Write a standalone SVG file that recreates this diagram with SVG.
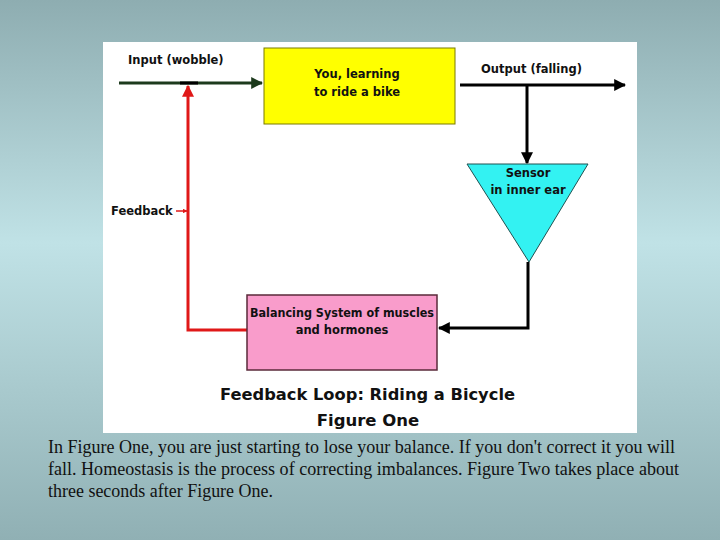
<svg xmlns="http://www.w3.org/2000/svg" width="720" height="540" viewBox="0 0 720 540">
<defs>
<linearGradient id="bg" x1="0" y1="0" x2="0" y2="1">
<stop offset="0" stop-color="#8eadb1"/>
<stop offset="0.45" stop-color="#c0e2e6"/>
<stop offset="1" stop-color="#90b0b4"/>
</linearGradient>
<marker id="ahG" viewBox="0 0 10 10" refX="9" refY="5" markerWidth="4" markerHeight="4" orient="auto" markerUnits="strokeWidth"><path d="M0,0 L10,5 L0,10 z" fill="#1c3a1c"/></marker>
<marker id="ahK" viewBox="0 0 10 10" refX="9" refY="5" markerWidth="4" markerHeight="4" orient="auto" markerUnits="strokeWidth"><path d="M0,0 L10,5 L0,10 z" fill="#000"/></marker>
<marker id="ahR" viewBox="0 0 10 10" refX="9" refY="5" markerWidth="4" markerHeight="4" orient="auto" markerUnits="strokeWidth"><path d="M0,0 L10,5 L0,10 z" fill="#e01818"/></marker>
<marker id="ahRs" viewBox="0 0 10 10" refX="9" refY="5" markerWidth="3" markerHeight="3" orient="auto" markerUnits="strokeWidth"><path d="M0,0 L10,5 L0,10 z" fill="#e01818"/></marker>
</defs>
<style>
.lbl{font-family:"DejaVu Sans",Verdana,sans-serif;font-weight:bold;font-size:11.5px;fill:#111}
.ttl{font-family:"DejaVu Sans",Verdana,sans-serif;font-weight:bold;font-size:16.5px;fill:#111}
.body{font-family:"Liberation Serif","Times New Roman",serif;font-size:18.5px;fill:#111}
.k{stroke:#000;stroke-width:3;fill:none}
.r{stroke:#e01818;stroke-width:3;fill:none}
</style>
<rect x="0" y="0" width="720" height="540" fill="url(#bg)"/>
<rect x="103" y="42" width="534" height="391" fill="#fff"/>

<g id="connectors">
<line x1="119" y1="83" x2="262" y2="83" stroke="#1c3a1c" stroke-width="3" marker-end="url(#ahG)"/>
<line x1="180" y1="83" x2="198" y2="83" stroke="#000" stroke-width="3"/>
<polyline class="r" points="247,330 188,330 188,86" marker-end="url(#ahR)"/>
<line x1="176" y1="211" x2="187" y2="211" stroke="#e01818" stroke-width="1.5" marker-end="url(#ahRs)"/>
<line class="k" x1="460" y1="85" x2="625" y2="85" marker-end="url(#ahK)"/>
<line class="k" x1="527" y1="85" x2="527" y2="163" marker-end="url(#ahK)"/>
<polyline class="k" points="528,262 528,328 439,328" marker-end="url(#ahK)"/>
</g>

<g id="input-label"><text class="lbl" x="128" y="64">Input (wobble)</text></g>
<g id="output-label"><text class="lbl" x="481" y="73">Output (falling)</text></g>
<g id="feedback-label"><text class="lbl" x="111" y="215">Feedback</text></g>

<g id="you">
<rect x="264" y="48" width="191" height="76" fill="#ffff00" stroke="#7a7a00" stroke-width="1"/>
<text class="lbl" x="357" y="78" text-anchor="middle">You, learning</text>
<text class="lbl" x="357" y="96" text-anchor="middle">to ride a bike</text>
</g>

<g id="sensor">
<polygon points="467,164 588,164 529,262" fill="#33f2f2" stroke="#205050" stroke-width="1"/>
<text class="lbl" x="528" y="177" text-anchor="middle">Sensor</text>
<text class="lbl" x="528" y="194" text-anchor="middle">in inner ear</text>
</g>

<g id="balancing">
<rect x="247" y="295" width="190" height="75" fill="#f99ccb" stroke="#5a2a3a" stroke-width="1.5"/>
<text class="lbl" x="250" y="317" textLength="184" lengthAdjust="spacingAndGlyphs">Balancing System of muscles</text>
<text class="lbl" x="342" y="334" text-anchor="middle">and hormones</text>
</g>

<g id="title">
<text class="ttl" x="220" y="400" textLength="295" lengthAdjust="spacingAndGlyphs">Feedback Loop: Riding a Bicycle</text>
<text class="ttl" x="368" y="426" text-anchor="middle">Figure One</text>
</g>

<g id="caption">
<text class="body" x="48" y="453" textLength="627" lengthAdjust="spacingAndGlyphs">In Figure One, you are just starting to lose your balance. If you don't correct it you will</text>
<text class="body" x="48" y="475" textLength="631" lengthAdjust="spacingAndGlyphs">fall. Homeostasis is the process of correcting imbalances. Figure Two takes place about</text>
<text class="body" x="48" y="497" textLength="225" lengthAdjust="spacingAndGlyphs">three seconds after Figure One.</text>
</g>
</svg>
